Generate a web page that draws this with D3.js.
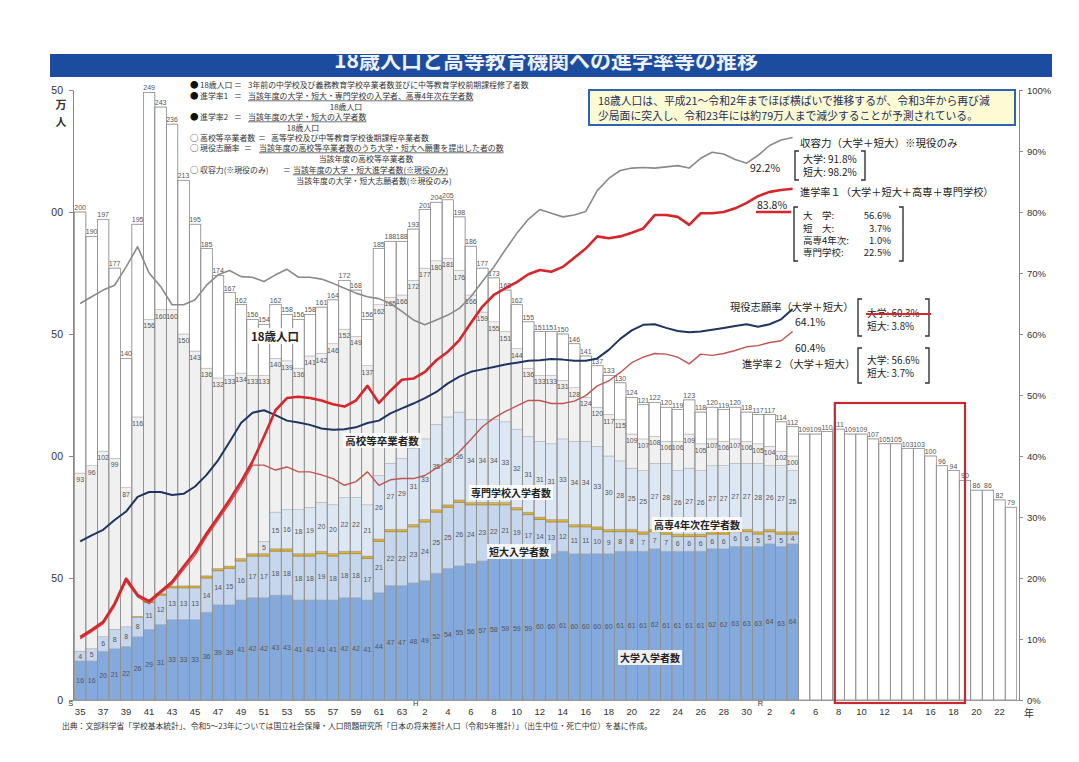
<!DOCTYPE html>
<html><head><meta charset="utf-8">
<script src="https://cdn.jsdelivr.net/npm/d3@7"></script>
<style>
body{margin:0;background:#fff;}
svg{display:block;font-family:"Noto Sans CJK JP","Liberation Sans",sans-serif;}
</style></head><body>
<svg id="c" width="1079" height="762"></svg>
<script>
// ---------------- DATA ----------------
const years = d3.range(1960, 2042);          // S35 .. R23
const actualYears = d3.range(1960, 2023);    // S35 .. R4
// 18歳人口 (万人)
const pop18 = [200,190,197,177,140,195,249,243,236,213,
  195,185,174,167,162,156,154,162,158,156,
  158,161,164,172,168,156,185,188,188,193,
  201,204,205,198,186,177,173,168,162,155,
  151,151,150,146,141,137,133,130,124,121,
  122,120,119,123,118,120,119,120,118,117,
  117,114,112,
  109,109,110,111,109,109,107,105,105,103,
  103,100,96,94,90,86,86,82,79];
// 高校等卒業者数 (万人)
const hsGrad = [93,96,102,99,87,116,156,160,160,150,
  143,136,132,133,134,133,133,140,139,136,
  141,142,146,152,149,137,162,165,166,172,
  177,180,181,176,166,159,155,151,144,136,
  133,133,131,128,124,120,117,115,109,107,
  108,106,106,109,105,107,106,107,106,105,
  104,102,100];
// 大学入学者数 (万人)
const univ = [16,16,20,21,22,26,29,31,33,33,
  33,36,39,39,41,42,42,43,43,41,
  41,41,41,42,42,41,44,47,47,48,
  49,52,54,55,56,57,58,59,59,59,
  60,60,61,60,60,60,60,61,61,61,
  62,61,61,61,61,62,62,63,63,63,
  64,63,64];
// 短大入学者数 (万人)
const jc = [4,5,6,8,8,8,11,12,13,13,
  13,14,14,15,16,17,17,18,18,18,
  18,19,18,18,18,17,21,22,22,23,
  24,25,25,26,24,23,22,21,19,17,
  14,13,12,11,11,10,9,8,8,7,
  7,7,6,6,6,6,6,6,6,5,
  5,5,4];
// 高専4年次在学者数 (万人)
const kosen = [0,0,0,0,0,0.3,0.5,0.6,0.7,0.8,
  0.8,0.9,0.9,0.9,1,1,1,1,1,1,
  1,1,1,1,1,1,1,1,1,1,
  1,1,1,1,1,1,1,1,1,1,
  1,1,1,1,1,1,1,1,1,1,
  1,1,1,1,1,1,1,1,1,1,
  1,1,1];
// 専門学校入学者数 (万人)
const senmon = [0,0,0,0,0,0,0,0,0,0,
  0,0,0,0,0,0,5,15,16,18,
  19,20,20,22,22,21,26,27,29,31,
  33,35,36,36,34,34,34,33,32,31,
  31,31,33,34,34,33,30,28,25,25,
  27,28,26,27,26,27,27,27,27,28,
  26,27,25];
// 収容力 (%)
const capacity = [65.0,66.1,67.2,68.0,71.0,74.3,70.0,67.8,64.8,64.8,
  65.6,68.0,69.7,70.4,69.4,69.3,68.6,69.7,70.6,69.3,
  69.3,69.0,68.3,67.5,66.7,66.1,65.8,65.0,63.7,62.3,
  61.5,62.3,63.1,64.2,66.1,68.6,71.0,73.8,76.5,78.8,
  80.4,79.8,79.2,79.5,80.1,83.5,85.5,86.8,87.2,87.3,
  87.2,87.4,87.6,87.2,88.8,89.8,89.5,88.6,88.0,89.3,
  90.9,91.8,92.2];
// 進学率1 (%)
const rate1 = [10.3,11.5,12.8,15.8,19.9,17.2,16.2,17.8,19.4,21.9,
  24.3,27.3,30.0,32.8,35.8,39.1,43.2,47.5,49.5,49.7,
  49.5,49.1,48.5,48.1,49.1,51.5,48.7,50.7,52.5,52.7,
  53.8,55.7,57.1,59.0,61.8,64.5,66.4,67.5,68.5,69.8,
  70.5,70.2,71.0,72.5,74.0,76.0,75.7,76.0,76.6,77.3,
  79.5,79.5,79.2,77.9,79.8,79.8,80.0,80.6,81.5,82.6,
  83.3,83.6,83.8];
// 進学率2 (%)
const rate2 = [10.0,11.2,12.5,15.4,19.5,16.9,15.8,17.5,19.0,21.4,
  23.7,26.8,29.5,32.2,35.2,38.5,38.5,37.7,38.2,37.4,
  37.4,36.9,36.3,35.2,35.8,37.4,35.2,36.1,36.3,36.3,
  36.8,38.0,39.1,40.7,42.7,44.8,46.2,47.3,48.2,49.1,
  49.1,48.6,48.6,49.0,49.9,51.5,52.3,53.7,55.3,56.2,
  56.8,56.7,56.2,55.1,56.7,56.5,56.8,57.3,57.9,58.1,
  58.6,58.9,60.4];
// 現役志願率 (%)
const aspiration = [26.0,27.0,27.9,29.5,30.9,33.3,34.1,34.1,33.6,33.8,
  35.0,36.9,39.3,42.3,45.4,47.1,47.5,46.7,45.8,45.5,
  45.1,44.5,44.3,44.4,44.7,45.4,45.8,47.0,47.8,48.6,
  49.5,50.5,51.9,53.0,53.8,54.2,54.6,55.0,55.3,55.6,
  55.7,55.9,55.8,55.6,55.6,56.0,57.4,59.2,60.6,61.5,
  61.6,61.0,60.5,60.3,60.4,60.7,61.0,61.3,61.6,61.2,
  61.6,62.4,64.1];
const leftTicks = [0,50,100,150,200,250];
const rightTicks = [0,10,20,30,40,50,60,70,80,90,100];
const xTickYears = d3.range(1960, 2041, 2);
const boxYears = [2026, 2037];

// ---------------- SETUP ----------------
const svg = d3.select("#c");
const x = d3.scaleBand().domain(years).range([74.4, 1016.7]).padding(0);
const bw = x.bandwidth();
const cx = yr => x(yr) + bw/2;
const yL = d3.scaleLinear().domain([0,250]).range([700,90]);
const yR = d3.scaleLinear().domain([0,100]).range([700,90]);
const NUM = "'Liberation Sans', Arial, sans-serif";

const defs = svg.append("defs");
defs.append("clipPath").attr("id","clipL").append("rect")
  .attr("x",51).attr("y",0).attr("width",1028).attr("height",762);
defs.append("clipPath").attr("id","clipT").append("rect")
  .attr("x",0).attr("y",55).attr("width",1079).attr("height",40);

// title bar
svg.append("rect").attr("x",50).attr("y",54).attr("width",1002).attr("height",23).attr("fill","#1c4c9f");
svg.append("g").attr("clip-path","url(#clipT)").append("text")
  .attr("x",546).attr("y",68).attr("text-anchor","middle").attr("fill","#eef2fa")
  .attr("font-size",21).attr("font-weight","bold")
  .text("18歳人口と高等教育機関への進学率等の推移");

// ---------------- BARS ----------------
const fills = {univ:"#84a9dc", jc:"#c5d6ed", kosen:"#d8b44a", senmon:"#dde7f3", hsRest:"#f0f0f0", popRest:"#ffffff"};
const layerNames = ["univ","jc","kosen","senmon","hsRest","popRest"];
const rows = years.map((yr,i)=>{
  if (i < actualYears.length) {
    const u=univ[i], j=jc[i], k=kosen[i], s=senmon[i];
    const b=[0,u,u+j,u+j+k,u+j+k+s,hsGrad[i],pop18[i]];
    return {yr, i, segs: layerNames.map((n,li)=>({n, y0:b[li], y1:b[li+1]})).filter(d=>d.y1>d.y0)};
  }
  return {yr, i, segs:[{n:"popRest", y0:0, y1:pop18[i]}]};
});
const gBars = svg.append("g");
const barG = gBars.selectAll("g.bar").data(rows).join("g").attr("class","bar");
barG.selectAll("rect").data(d=>d.segs.map(s=>({...s, yr:d.yr}))).join("rect")
  .attr("x",d=>x(d.yr)).attr("width",bw)
  .attr("y",d=>yL(d.y1)).attr("height",d=>yL(d.y0)-yL(d.y1))
  .attr("fill",d=>fills[d.n])
  .attr("stroke",d=>d.n==="kosen"?"#b8952f":"#aaaaaa").attr("stroke-width",d=>d.n==="kosen"?1.1:0.5);
gBars.selectAll("rect.outline").data(rows).join("rect").attr("class","outline")
  .attr("x",d=>x(d.yr)).attr("width",bw).attr("y",d=>yL(pop18[d.i])).attr("height",d=>yL(0)-yL(pop18[d.i]))
  .attr("fill","none").attr("stroke","#8f8f8f").attr("stroke-width",0.7);

// value labels
const gLab = svg.append("g").attr("font-family",NUM).attr("font-size",7).attr("fill","#555").attr("text-anchor","middle");
gLab.selectAll("text.p").data(years).join("text").attr("class","p")
  .attr("x",d=>cx(d)).attr("y",(d,i)=>yL(pop18[i])-2).text((d,i)=>pop18[i]);
gLab.selectAll("text.h").data(actualYears).join("text").attr("class","h")
  .attr("x",d=>cx(d)).attr("y",(d,i)=>yL(hsGrad[i])+9).text((d,i)=>hsGrad[i]);
gLab.selectAll("text.u").data(actualYears).join("text").attr("class","u")
  .attr("x",d=>cx(d)).attr("y",(d,i)=>yL(univ[i]/2)+2.5).text((d,i)=>univ[i]);
gLab.selectAll("text.j").data(actualYears).join("text").attr("class","j")
  .attr("x",d=>cx(d)).attr("y",(d,i)=>yL(univ[i]+jc[i]/2)+2.5).text((d,i)=>jc[i]);
const smYears = actualYears.filter((d,i)=>senmon[i]>0);
gLab.selectAll("text.s").data(smYears).join("text").attr("class","s")
  .attr("x",d=>cx(d)).attr("y",d=>{const i=d-1960; return yL(univ[i]+jc[i]+kosen[i]+senmon[i]/2)+2.5;})
  .text(d=>senmon[d-1960]);

// ---------------- AXES ----------------
const gAxL = svg.append("g").attr("clip-path","url(#clipL)")
  .append("g").attr("transform","translate(73,0)")
  .call(d3.axisLeft(yL).tickValues(leftTicks).tickSize(4).tickSizeOuter(0).tickPadding(6));
gAxL.selectAll("text").attr("font-size",10.5).attr("font-family",NUM).attr("fill","#333");
gAxL.selectAll("path,line").attr("stroke","#888");
svg.append("text").attr("x",61).attr("y",109).attr("text-anchor","middle").attr("font-size",11).attr("font-weight","bold").attr("fill","#333").text("万");
svg.append("text").attr("x",61).attr("y",126).attr("text-anchor","middle").attr("font-size",11).attr("font-weight","bold").attr("fill","#333").text("人");

const gAxR = svg.append("g").attr("transform","translate(1019,0)")
  .call(d3.axisRight(yR).tickValues(rightTicks).tickFormat(d=>d+"%").tickSize(4).tickSizeOuter(0).tickPadding(4));
gAxR.selectAll("text").attr("font-size",9.5).attr("font-family",NUM).attr("fill","#333");
gAxR.selectAll("path,line").attr("stroke","#888");

svg.append("line").attr("x1",73).attr("x2",1019).attr("y1",700.5).attr("y2",700.5).attr("stroke","#999");
const era = y => y<=1988 ? y-1925 : (y<=2018 ? y-1988 : y-2018);
const gAxB = svg.append("g").attr("transform","translate(0,700)")
  .call(d3.axisBottom(x).tickValues(xTickYears).tickFormat(era).tickSize(0).tickPadding(8));
gAxB.select(".domain").remove();
gAxB.selectAll("text").attr("font-size",9.5).attr("font-family",NUM).attr("fill","#333");
[[1960,"S"],[1990,"H"],[2020,"R"]].forEach(([yr,s])=>{
  svg.append("text").attr("x",cx(yr)-12).attr("y",706).attr("font-size",7.5).attr("font-family",NUM).attr("fill","#333").text(s);
});
svg.append("text").attr("x",1024).attr("y",717).attr("font-size",10).attr("fill","#333").text("年");

// ---------------- LINES ----------------
const lineGen = d3.line().x(d=>cx(d[0])).y(d=>yR(d[1]));
const ser = arr => actualYears.map((yr,i)=>[yr,arr[i]]);
const gLines = svg.append("g").attr("fill","none").attr("stroke-linejoin","round");
gLines.append("path").attr("d",lineGen(ser(capacity))).attr("stroke","#8a8a8a").attr("stroke-width",1.6);
gLines.append("path").attr("d",lineGen(ser(rate2))).attr("stroke","#bf5552").attr("stroke-width",1.4);
gLines.append("path").attr("d",lineGen(ser(aspiration))).attr("stroke","#1f3560").attr("stroke-width",2);
gLines.append("path").attr("d",lineGen(ser(rate1))).attr("stroke","#d7262b").attr("stroke-width",2.6);

// red box (projection emphasis)
svg.append("rect").attr("x",x(boxYears[0])+2).attr("y",403)
  .attr("width",x(boxYears[1])+bw*0.5-x(boxYears[0])-2).attr("height",300)
  .attr("fill","none").attr("stroke","#c8282e").attr("stroke-width",2.2);

// ---------------- SERIES NAME LABELS ----------------
function boxLabel(txt, x0, y0, size){
  const g = svg.append("g");
  const t = g.append("text").attr("x",x0).attr("y",y0).attr("text-anchor","middle")
    .attr("font-size",size).attr("font-weight","bold").attr("fill","#222").text(txt);
  const bb = t.node().getBBox();
  g.insert("rect","text").attr("x",bb.x-2).attr("y",bb.y).attr("width",bb.width+4).attr("height",bb.height)
    .attr("fill","#fff").attr("opacity",0.85);
}
boxLabel("18歳人口",275,341,11.5);
boxLabel("高校等卒業者数",382,445,10.5);
boxLabel("専門学校入学者数",511,497,10);
boxLabel("短大入学者数",519,556,10);
boxLabel("高専4年次在学者数",697,529,10);
boxLabel("大学入学者数",650,662,10);

// ---------------- LEGEND (definitions) ----------------
const gLeg = svg.append("g").attr("font-size",7.9).attr("fill","#333").attr("transform","translate(6,0)");
const legRows = [
 {b:"●",label:"18歳人口",eq:228,def:"3年前の中学校及び義務教育学校卒業者数並びに中等教育学校前期課程修了者数",dx:242,y:88,ul:false},
 {b:"●",label:"進学率1",eq:228,def:"当該年度の大学・短大・専門学校の入学者、高専4年次在学者数",dx:242,y:99,ul:true},
 {sub:"18歳人口",sx:340,y:109.5},
 {b:"●",label:"進学率2",eq:228,def:"当該年度の大学・短大の入学者数",dx:242,y:120,ul:true},
 {sub:"18歳人口",sx:297,y:130.5},
 {b:"○",label:"高校等卒業者数",eq:252,def:"高等学校及び中等教育学校後期課程卒業者数",dx:265,y:141,ul:false},
 {b:"○",label:"現役志願率",eq:238,def:"当該年度の高校等卒業者数のうち大学・短大へ願書を提出した者の数",dx:253,y:151,ul:true},
 {sub:"当該年度の高校等卒業者数",sx:360,y:161.5},
 {b:"○",label:"収容力(※現役のみ)",eq:277,def:"当該年度の大学・短大進学者数(※現役のみ)",dx:287,y:173,ul:true},
 {sub:"当該年度の大学・短大志願者数(※現役のみ)",sx:368,y:184}
];
legRows.forEach(r=>{
  if (r.sub){ gLeg.append("text").attr("x",r.sx).attr("y",r.y).attr("text-anchor","middle").text(r.sub); return; }
  gLeg.append("text").attr("x",184).attr("y",r.y).attr("font-size",8.5).attr("fill","#111").text(r.b);
  gLeg.append("text").attr("x",194).attr("y",r.y).text(r.label);
  gLeg.append("text").attr("x",r.eq).attr("y",r.y).text("＝");
  const t = gLeg.append("text").attr("x",r.dx).attr("y",r.y).text(r.def);
  if (r.ul){ const w=t.node().getComputedTextLength();
    gLeg.append("line").attr("x1",r.dx).attr("x2",r.dx+w).attr("y1",r.y+1.8).attr("y2",r.y+1.8).attr("stroke","#333").attr("stroke-width",0.7); }
});

// ---------------- NOTE BOX ----------------
svg.append("rect").attr("x",589).attr("y",90).attr("width",426).attr("height",35)
  .attr("fill","#fdfbd4").attr("stroke","#2f63b4").attr("stroke-width",2);
svg.append("text").attr("x",598).attr("y",105).attr("font-size",10.8).attr("fill","#1d2f5a")
  .text("18歳人口は、平成21～令和2年までほぼ横ばいで推移するが、令和3年から再び減");
svg.append("text").attr("x",598).attr("y",120).attr("font-size",10.8).attr("fill","#1d2f5a")
  .text("少局面に突入し、令和23年には約79万人まで減少することが予測されている。");

// ---------------- RIGHT ANNOTATIONS ----------------
const gAn = svg.append("g").attr("fill","#222");
function txt(s,x0,y0,size,anchor){ return gAn.append("text").attr("x",x0).attr("y",y0).attr("font-size",size||10.5).attr("text-anchor",anchor||"start").text(s); }
function bracket(x1,x2,y1,y2){
  gAn.append("path").attr("d",`M${x1+4},${y1}H${x1}V${y2}H${x1+4}`).attr("fill","none").attr("stroke","#333").attr("stroke-width",1.4);
  gAn.append("path").attr("d",`M${x2-4},${y1}H${x2}V${y2}H${x2-4}`).attr("fill","none").attr("stroke","#333").attr("stroke-width",1.4);
}
txt("収容力（大学＋短大）※現役のみ",800,147,10.5);
txt("92.2%",750,172,10.5);
bracket(795,865,151,180);
txt("大学: 91.8%",803,163,10); txt("短大: 98.2%",803,176,10);

txt("進学率１（大学＋短大＋高専＋専門学校）",800,196,10.2);
txt("83.8%",757,209,10.5);
gAn.append("line").attr("x1",756).attr("x2",791).attr("y1",212).attr("y2",212).attr("stroke","#d7262b").attr("stroke-width",2.5);
bracket(794,903,207,261);
[["大　学:","56.6%",219],["短　大:","3.7%",232],["高専4年次:","1.0%",244],["専門学校:","22.5%",256]].forEach(([a,b,yy])=>{
  txt(a,803,yy,9.5); txt(b,891,yy,9.5,"end");
});

txt("現役志願率（大学＋短大）",730,311,10.3);
txt("64.1%",795,326,10.5);
bracket(858,929,299,336);
txt("大学: 60.3%",867,317,9.8); txt("短大:  3.8%",867,330,9.8);
gAn.append("line").attr("x1",866).attr("x2",931).attr("y1",314).attr("y2",314).attr("stroke","#d7262b").attr("stroke-width",2.2);

txt("60.4%",795,352,10.5);
txt("進学率２（大学＋短大）",742,368,10.3);
bracket(858,929,348,383);
txt("大学: 56.6%",867,364,9.8); txt("短大:  3.7%",867,377,9.8);

// source
svg.append("text").attr("x",62).attr("y",729).attr("font-size",7.8).attr("fill","#333")
  .text("出典：文部科学省「学校基本統計」、令和5～23年については国立社会保障・人口問題研究所「日本の将来推計人口（令和5年推計）」（出生中位・死亡中位）を基に作成。");
</script>
</body></html>
